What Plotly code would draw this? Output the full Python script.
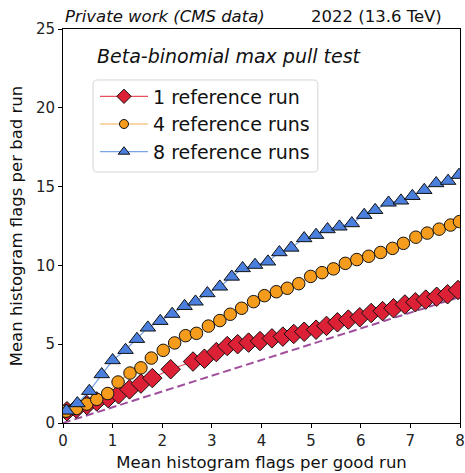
import plotly.graph_objects as go

# ---- data ----
x_1ref = [0.08, 0.27, 0.48, 0.68, 0.91, 1.12, 1.34, 1.57, 1.80, 2.17, 2.62, 2.85, 3.09, 3.31, 3.52,
          3.74, 3.97, 4.21, 4.43, 4.65, 4.86, 5.10, 5.31, 5.53, 5.75, 5.98, 6.21, 6.44, 6.66, 6.89,
          7.10, 7.31, 7.53, 7.75, 7.96]
y_1ref = [0.75, 0.92, 1.14, 1.37, 1.58, 1.82, 2.13, 2.50, 2.85, 3.41, 3.90, 4.08, 4.50, 4.88, 5.00,
          5.10, 5.20, 5.37, 5.48, 5.65, 5.79, 5.92, 6.16, 6.39, 6.56, 6.71, 6.98, 7.10, 7.28, 7.52,
          7.66, 7.83, 8.01, 8.17, 8.44]

x_4ref = [0.06, 0.27, 0.48, 0.68, 0.90, 1.11, 1.35, 1.57, 1.78, 2.02, 2.25, 2.47, 2.69, 2.93, 3.16,
          3.37, 3.60, 3.84, 4.06, 4.30, 4.52, 4.75, 4.99, 5.22, 5.45, 5.69, 5.92, 6.16, 6.40, 6.64,
          6.86, 7.11, 7.34, 7.58, 7.81, 7.99]
y_4ref = [0.75, 0.92, 1.20, 1.50, 1.87, 2.60, 3.17, 3.50, 4.12, 4.61, 5.08, 5.54, 5.69, 6.15, 6.50,
          6.90, 7.28, 7.70, 8.08, 8.33, 8.55, 8.84, 9.30, 9.54, 9.78, 10.13, 10.37, 10.58, 10.82, 11.08,
          11.40, 11.79, 12.05, 12.30, 12.56, 12.78]

x_8ref = [0.07, 0.29, 0.53, 0.78, 1.00, 1.26, 1.49, 1.71, 1.96, 2.20, 2.45, 2.67, 2.91, 3.16, 3.40,
          3.62, 3.87, 4.13, 4.36, 4.60, 4.86, 5.10, 5.33, 5.57, 5.82, 6.07, 6.29, 6.56, 6.81, 7.04,
          7.28, 7.52, 7.76, 7.98]
y_8ref = [0.78, 1.25, 2.03, 3.09, 3.98, 4.63, 5.33, 6.05, 6.47, 6.92, 7.42, 7.70, 8.23, 8.65, 9.28,
          9.82, 10.03, 10.24, 10.83, 11.12, 11.72, 11.93, 12.29, 12.46, 12.67, 13.20, 13.51, 13.98, 14.11, 14.40,
          14.78, 15.21, 15.36, 15.74]

diag = [0, 8]

series_names = ["1 reference run", "4 reference runs", "8 reference runs"]
x_ticks = [0, 1, 2, 3, 4, 5, 6, 7, 8]
y_ticks = [0, 5, 10, 15, 20, 25]

FONT = "DejaVu Sans"

styles = [
    dict(line="#e8505c", fill="#dc2035", symbol="diamond", size=15, lsize=11),
    dict(line="#f2ad55", fill="#f59c1c", symbol="circle", size=12.5, lsize=9),
    dict(line="#78a4e8", fill="#4b7fde", symbol="triangle-up", size=13.5, lsize=10),
]
xs = [x_1ref, x_4ref, x_8ref]
ys = [y_1ref, y_4ref, y_8ref]

fig = go.Figure()

fig.add_trace(go.Scatter(
    x=diag, y=diag, mode="lines", showlegend=False,
    line=dict(color="#a04f9c", width=2, dash="8px,4px"), hoverinfo="skip"))

for name, x, y, st in zip(series_names, xs, ys, styles):
    fig.add_trace(go.Scatter(
        x=x, y=y, mode="lines+markers", name=name, showlegend=False,
        line=dict(color=st["line"], width=1.2),
        marker=dict(symbol=st["symbol"], size=st["size"], color=st["fill"],
                    line=dict(color="#111111", width=1))))

# legend-only entries (smaller legend markers, as in the reference)
for name, st in zip(series_names, styles):
    fig.add_trace(go.Scatter(
        x=[None], y=[None], mode="lines+markers", name=name,
        line=dict(color=st["line"], width=1.2),
        marker=dict(symbol=st["symbol"], size=st["lsize"], color=st["fill"],
                    line=dict(color="#111111", width=1))))

axis_common = dict(
    showline=True, linecolor="black", linewidth=1, mirror=True,
    ticks="outside", ticklen=4, tickwidth=1, tickcolor="black",
    showgrid=False, zeroline=False, automargin=False,
    tickfont=dict(family=FONT, size=15, color="#222222"),
)

fig.update_layout(
    width=465, height=473,
    margin=dict(l=63, r=5, t=29, b=50),
    paper_bgcolor="white", plot_bgcolor="white",
    font=dict(family=FONT, color="#111111"),
    xaxis=dict(range=[0, 8], tickvals=x_ticks,
               title=dict(text="Mean histogram flags per good run",
                          font=dict(family=FONT, size=16.5), standoff=7),
               **axis_common),
    yaxis=dict(range=[0, 25], tickvals=y_ticks,
               title=dict(text="Mean histogram flags per bad run",
                          font=dict(family=FONT, size=16.5), standoff=9),
               **axis_common),
    legend=dict(
        x=0.0806, y=0.877, xanchor="left", yanchor="top",
        bgcolor="rgba(0,0,0,0)", borderwidth=0,
        font=dict(family=FONT, size=19, color="#111111"),
        tracegroupgap=0, itemwidth=48,
    ),
    showlegend=True,
)

# legend frame (rounded, light grey) drawn as a shape in paper coordinates
lx0, lx1, ly0, ly1 = 0.0756, 0.642, 0.637, 0.8706
rx, ry = 0.011, 0.011
frame_path = (
    f"M{lx0+rx},{ly1} L{lx1-rx},{ly1} Q{lx1},{ly1} {lx1},{ly1-ry} "
    f"L{lx1},{ly0+ry} Q{lx1},{ly0} {lx1-rx},{ly0} "
    f"L{lx0+rx},{ly0} Q{lx0},{ly0} {lx0},{ly0+ry} "
    f"L{lx0},{ly1-ry} Q{lx0},{ly1} {lx0+rx},{ly1} Z"
)
fig.add_shape(type="path", path=frame_path, xref="paper", yref="paper",
              line=dict(color="#d4d4d4", width=1), fillcolor="rgba(255,255,255,0.85)",
              layer="above")

fig.add_annotation(text="<i>Private work (CMS data)</i>", xref="paper", yref="paper",
                   x=0, y=1, xanchor="left", yanchor="bottom", yshift=1, showarrow=False,
                   font=dict(family=FONT, size=16.5, color="#111111"))
fig.add_annotation(text="2022 (13.6 TeV)", xref="paper", yref="paper",
                   x=1, y=1, xanchor="right", yanchor="bottom", yshift=1, xshift=-16,
                   showarrow=False,
                   font=dict(family=FONT, size=16.5, color="#111111"))
fig.add_annotation(text="<i>Beta-binomial max pull test</i>", xref="paper", yref="paper",
                   x=0.08, y=0.965, xanchor="left", yanchor="top", showarrow=False,
                   font=dict(family=FONT, size=19, color="#111111"))

fig.write_html("out.html")
